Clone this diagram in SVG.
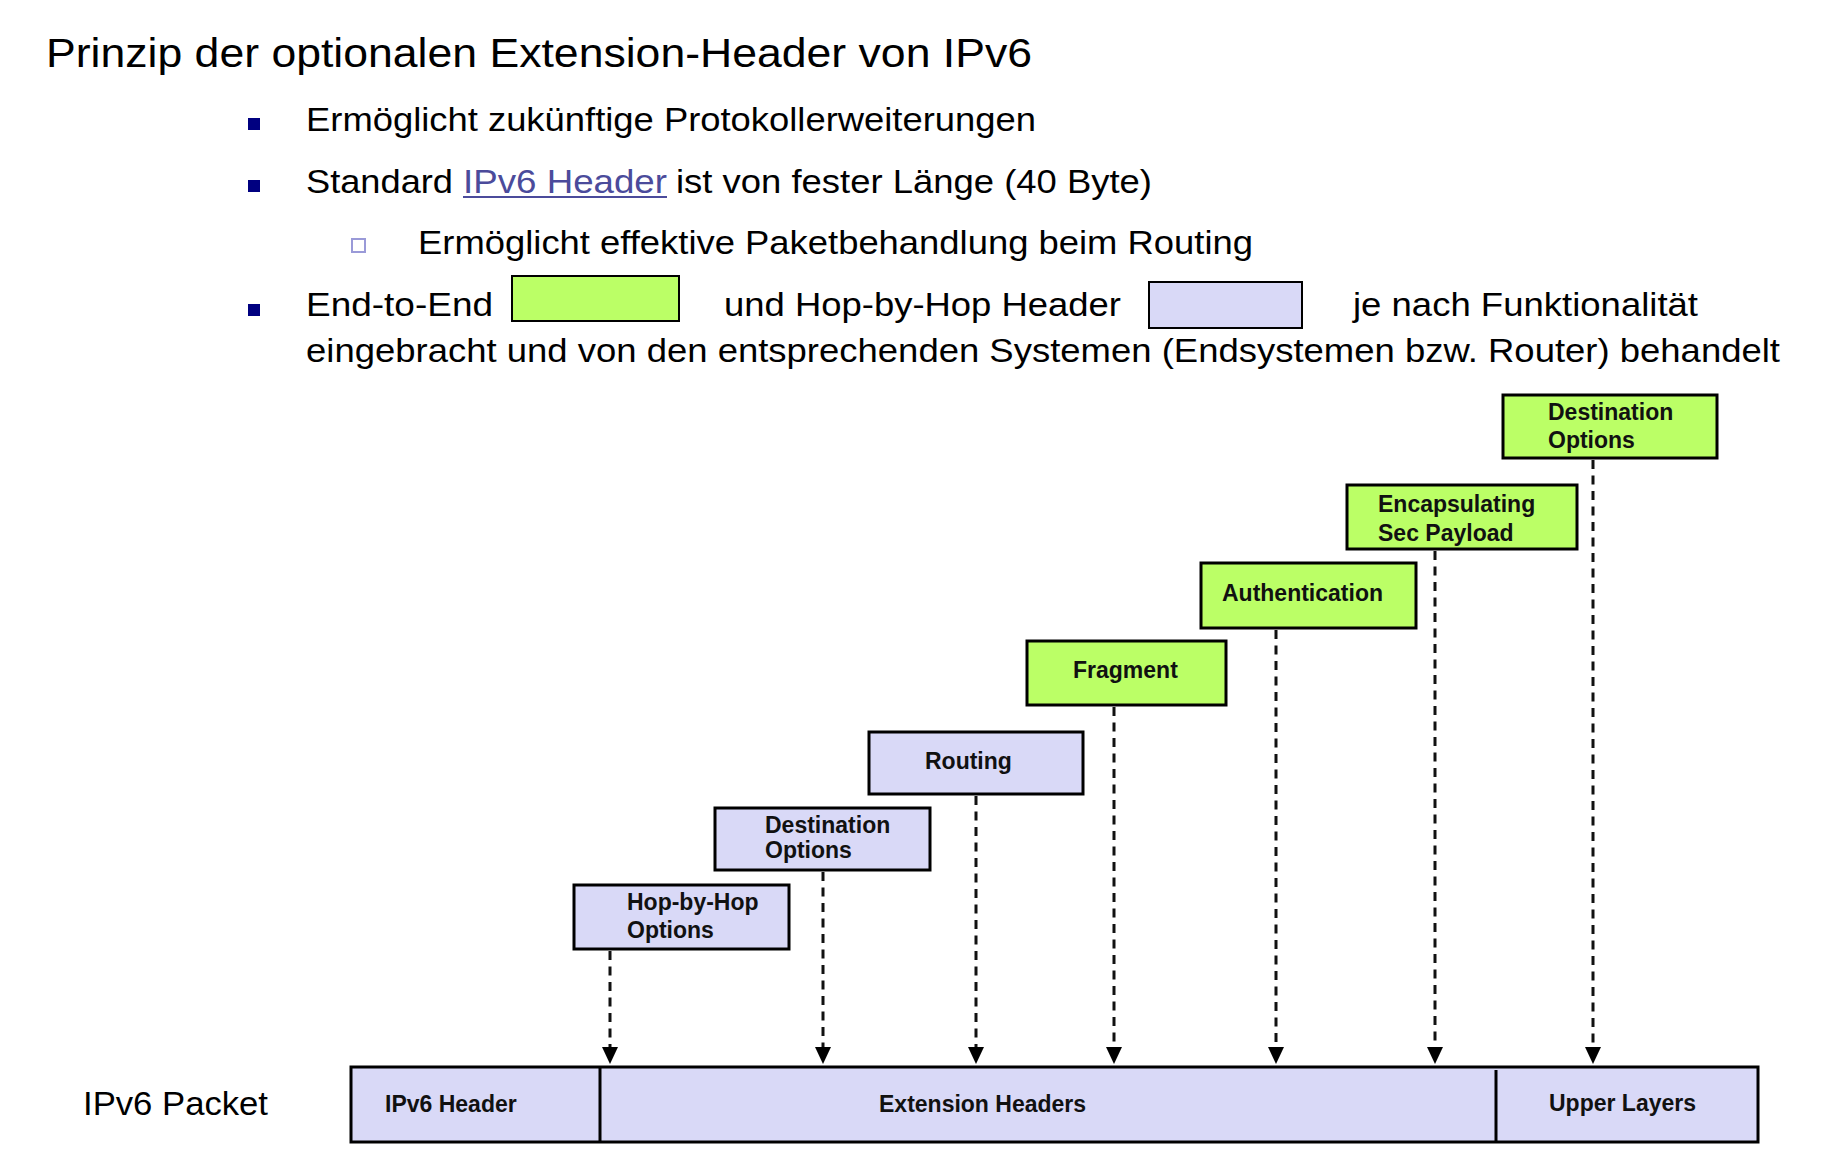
<svg xmlns="http://www.w3.org/2000/svg" width="1828" height="1154" viewBox="0 0 1828 1154">
<style>
  .t { font-family: "Liberation Sans", Arial, sans-serif; fill: #000; }
  .title { font-size: 40px; }
  .body { font-size: 34px; }
  .link { fill: #4b4b9b; }
  .lbl { font-family: "Liberation Sans", Arial, sans-serif; font-size: 23px; font-weight: bold; fill: #111; }
  .e2e { fill: #bbff66; stroke: #000; stroke-width: 3; }
  .hbh { fill: #d9d9f7; stroke: #000; stroke-width: 3; }
  .conn { stroke: #111; stroke-width: 3; stroke-dasharray: 9 6.5; fill: none; }
  .bul { fill: #000080; }
</style>
<defs>
  <marker id="arr" markerUnits="userSpaceOnUse" markerWidth="17" markerHeight="16" viewBox="0 0 17 16" refX="0" refY="8" orient="auto">
    <path d="M0,0 L17,8 L0,16 Z" fill="#000"/>
  </marker>
</defs>
<rect width="1828" height="1154" fill="#fff"/>

<g id="text-block">
  <text class="t title" x="46" y="67" textLength="986" lengthAdjust="spacingAndGlyphs">Prinzip der optionalen Extension-Header von IPv6</text>
  <rect class="bul" x="248" y="118" width="12" height="12"/>
  <text class="t body" x="306" y="131" textLength="730" lengthAdjust="spacingAndGlyphs">Ermöglicht zukünftige Protokollerweiterungen</text>
  <rect class="bul" x="248" y="180" width="12" height="12"/>
  <text class="t body" x="306" y="193" textLength="147" lengthAdjust="spacingAndGlyphs">Standard</text>
  <text class="t body link" x="463" y="193" textLength="204" lengthAdjust="spacingAndGlyphs">IPv6 Header</text>
  <line x1="463" y1="197" x2="667" y2="197" stroke="#4b4b9b" stroke-width="2"/>
  <text class="t body" x="676" y="193" textLength="476" lengthAdjust="spacingAndGlyphs">ist von fester Länge (40 Byte)</text>
  <rect x="352" y="239" width="13" height="13" fill="#fff" stroke="#9a9ad8" stroke-width="2"/>
  <text class="t body" x="418" y="254" textLength="835" lengthAdjust="spacingAndGlyphs">Ermöglicht effektive Paketbehandlung beim Routing</text>
  <rect class="bul" x="248" y="304" width="12" height="12"/>
  <text class="t body" x="306" y="316" textLength="187" lengthAdjust="spacingAndGlyphs">End-to-End</text>
  <rect x="512" y="276" width="167" height="45" fill="#bbff66" stroke="#000" stroke-width="2"/>
  <text class="t body" x="724" y="316" textLength="397" lengthAdjust="spacingAndGlyphs">und Hop-by-Hop Header</text>
  <rect x="1149" y="282" width="153" height="46" fill="#d9d9f7" stroke="#000" stroke-width="2"/>
  <text class="t body" x="1353" y="316" textLength="345" lengthAdjust="spacingAndGlyphs">je nach Funktionalität</text>
  <text class="t body" x="306" y="362" textLength="1474" lengthAdjust="spacingAndGlyphs">eingebracht und von den entsprechenden Systemen (Endsystemen bzw. Router) behandelt</text>
</g>

<g id="connectors">
  <line class="conn" x1="610" y1="951" x2="610" y2="1047" marker-end="url(#arr)"/>
  <line class="conn" x1="823" y1="872" x2="823" y2="1047" marker-end="url(#arr)"/>
  <line class="conn" x1="976" y1="796" x2="976" y2="1047" marker-end="url(#arr)"/>
  <line class="conn" x1="1114" y1="707" x2="1114" y2="1047" marker-end="url(#arr)"/>
  <line class="conn" x1="1276" y1="630" x2="1276" y2="1047" marker-end="url(#arr)"/>
  <line class="conn" x1="1435" y1="551" x2="1435" y2="1047" marker-end="url(#arr)"/>
  <line class="conn" x1="1593" y1="460" x2="1593" y2="1047" marker-end="url(#arr)"/>
</g>

<g id="node-hop-by-hop">
  <rect class="hbh" x="574" y="885" width="215" height="64"/>
  <text class="lbl" x="627" y="910">Hop-by-Hop</text>
  <text class="lbl" x="627" y="938">Options</text>
</g>
<g id="node-destination-options-1">
  <rect class="hbh" x="715" y="808" width="215" height="62"/>
  <text class="lbl" x="765" y="833">Destination</text>
  <text class="lbl" x="765" y="858">Options</text>
</g>
<g id="node-routing">
  <rect class="hbh" x="869" y="732" width="214" height="62"/>
  <text class="lbl" x="925" y="769">Routing</text>
</g>
<g id="node-fragment">
  <rect class="e2e" x="1027" y="641" width="199" height="64"/>
  <text class="lbl" x="1073" y="678">Fragment</text>
</g>
<g id="node-authentication">
  <rect class="e2e" x="1201" y="563" width="215" height="65"/>
  <text class="lbl" x="1222" y="601">Authentication</text>
</g>
<g id="node-esp">
  <rect class="e2e" x="1347" y="485" width="230" height="64"/>
  <text class="lbl" x="1378" y="512">Encapsulating</text>
  <text class="lbl" x="1378" y="541">Sec Payload</text>
</g>
<g id="node-destination-options-2">
  <rect class="e2e" x="1503" y="395" width="214" height="63"/>
  <text class="lbl" x="1548" y="420">Destination</text>
  <text class="lbl" x="1548" y="448">Options</text>
</g>

<g id="node-ipv6-packet">
  <text class="t" x="83" y="1115" font-size="34" textLength="185" lengthAdjust="spacingAndGlyphs">IPv6 Packet</text>
  <rect class="hbh" x="351" y="1067" width="1407" height="75"/>
  <line x1="600" y1="1067" x2="600" y2="1142" stroke="#000" stroke-width="3"/>
  <line x1="1496" y1="1070" x2="1496" y2="1142" stroke="#000" stroke-width="3"/>
  <text class="lbl" x="385" y="1112">IPv6 Header</text>
  <text class="lbl" x="879" y="1112">Extension Headers</text>
  <text class="lbl" x="1549" y="1111">Upper Layers</text>
</g>
</svg>
